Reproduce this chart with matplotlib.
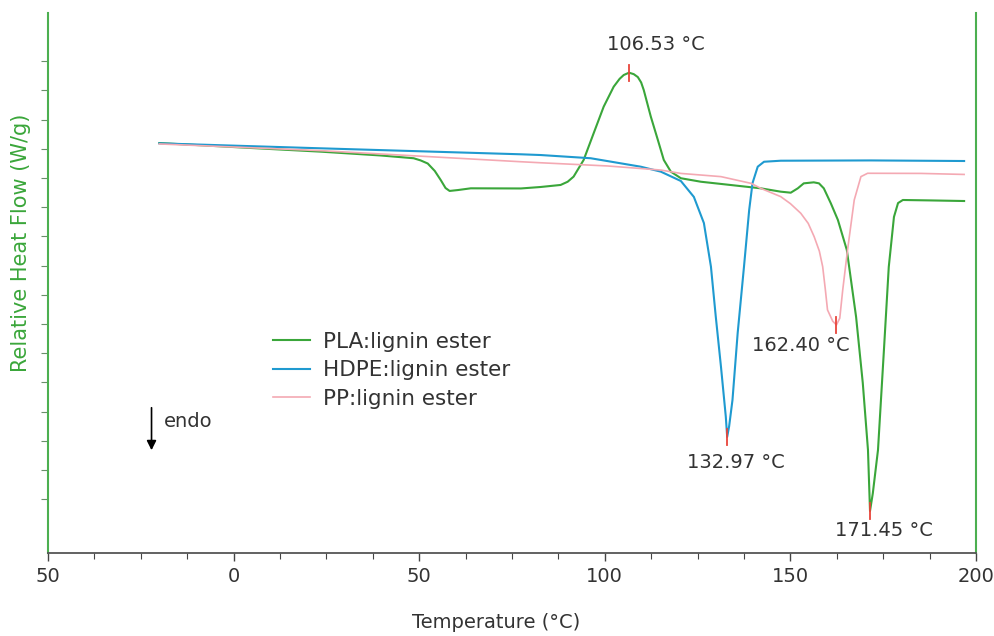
import numpy as np
import matplotlib.pyplot as plt

# DSC curves (temperature in degC, relative heat flow in W/g)
pla_t = [-20.0, -8.9, 1.9, 23.5, 39.6, 48.5, 50.4, 52.3, 54.2, 55.8, 57.1, 58.2,
         60.4, 63.9, 77.4, 82.7, 88.1, 90.0, 91.6, 94.3, 97.0, 99.7, 102.4, 104.0,
         105.1, 106.53, 107.8, 108.9, 109.8, 110.5, 112.4, 114.3, 115.9, 117.8,
         120.5, 125.9, 131.3, 142.0, 147.4, 150.1, 152.0, 153.6, 156.3, 157.7,
         159.0, 160.9, 162.8, 165.2, 167.7, 169.5, 170.9, 171.45, 172.2, 173.6,
         175.2, 176.5, 177.9, 179.0, 180.3, 187.9, 196.8]
pla_hf = [0.440, 0.425, 0.410, 0.381, 0.355, 0.336, 0.321, 0.300, 0.249, 0.187,
          0.132, 0.112, 0.118, 0.130, 0.129, 0.139, 0.153, 0.175, 0.210, 0.324,
          0.507, 0.689, 0.826, 0.880, 0.906, 0.922, 0.912, 0.892, 0.855, 0.803,
          0.621, 0.461, 0.324, 0.244, 0.199, 0.175, 0.160, 0.130, 0.107, 0.100,
          0.130, 0.164, 0.171, 0.164, 0.130, 0.027, -0.087, -0.292, -0.751,
          -1.203, -1.662, -2.080, -1.960, -1.662, -0.977, -0.409, -0.066, 0.029,
          0.050, 0.047, 0.043]

hdpe_t = [-20.0, 23.5, 77.4, 82.7, 96.2, 109.7, 115.1, 120.5, 124.0, 126.7,
          128.6, 129.9, 131.3, 132.6, 132.97, 133.5, 134.4, 135.8, 137.5, 138.9,
          139.8, 141.2, 142.9, 147.4, 171.7, 196.8]
hdpe_hf = [0.438, 0.404, 0.363, 0.358, 0.336, 0.278, 0.244, 0.180, 0.071, -0.108,
           -0.407, -0.749, -1.092, -1.434, -1.573, -1.500, -1.320, -0.861, -0.407,
           -0.018, 0.166, 0.278, 0.312, 0.319, 0.321, 0.317]

pp_t = [-20.0, 23.5, 77.4, 82.7, 100.8, 115.1, 120.5, 131.3, 139.4, 142.0,
        147.4, 150.0, 152.8, 154.8, 156.4, 157.8, 158.7, 159.4, 160.0, 161.4,
        162.40, 163.3, 164.1, 165.4, 167.2, 169.0, 170.8, 185.2, 196.8]
pp_hf = [0.434, 0.388, 0.312, 0.305, 0.283, 0.255, 0.232, 0.210, 0.164, 0.130,
         0.073, 0.025, -0.041, -0.110, -0.201, -0.300, -0.407, -0.560, -0.703,
         -0.780, -0.806, -0.760, -0.566, -0.292, 0.050, 0.210, 0.233, 0.232, 0.225]

series_names = ['PLA:lignin ester', 'HDPE:lignin ester', 'PP:lignin ester']
series_colors = ['#3aa63a', '#1f9ad0', '#f4a9b3']

peak_temps = [106.53, 132.97, 162.40, 171.45]
peak_series = [0, 1, 2, 0]
# label centre (T, heat flow) for each peak
peak_label_pos = [(113.7, 1.118), (135.3, -1.751), (152.8, -0.950), (175.2, -2.211)]

temp_ticks = [-50, 0, 50, 100, 150, 200]
temp_tick_labels = ['50', '0', '50', '100', '150', '200']

green = '#4caf50'
txt = '#333333'

fig = plt.figure(figsize=(9.95, 6.36), dpi=100)
ax = fig.add_axes([0.0482, 0.1305, 0.9327, 0.8491])

curves = [(pla_t, pla_hf), (hdpe_t, hdpe_hf), (pp_t, pp_hf)]
widths = [1.5, 1.5, 1.2]
for (t, hf), name, c, lw in zip(curves, series_names, series_colors, widths):
    ax.plot(t, hf, color=c, lw=lw, label=name, solid_joinstyle='round')

# peak markers + labels
for pt, si, (lx, ly) in zip(peak_temps, peak_series, peak_label_pos):
    t, hf = curves[si]
    py = np.interp(pt, t, hf)
    ax.plot([pt, pt], [py - 0.055, py + 0.055], color='#e8443a', lw=1.3)
    ax.text(lx, ly, '%.2f °C' % pt, ha='center', va='center', fontsize=14, color=txt)

# endo arrow
ax.annotate('', xy=(-22.1, -1.683), xytext=(-22.1, -1.354),
            arrowprops=dict(arrowstyle='-|>', color='black', lw=1.2, mutation_scale=14))
ax.text(-18.9, -1.464, 'endo', ha='left', va='center', fontsize=14, color=txt)

ax.set_xlim(-50, 200)
ax.set_ylim(-2.368, 1.331)
ax.set_xticks(temp_ticks)
ax.set_xticklabels(temp_tick_labels)
ax.set_xticks(np.arange(-50, 200.1, 12.5), minor=True)
ax.set_yticks(np.arange(-2.0, 1.01, 0.2))
ax.set_yticklabels([])
ax.tick_params(axis='x', which='major', length=6, width=1, colors='#444444',
               labelsize=14, labelcolor=txt, pad=4)
ax.tick_params(axis='x', which='minor', length=4, width=0.8, colors='#444444')
ax.tick_params(axis='y', length=5, width=0.8, colors='#6a8f6a')

ax.spines['top'].set_visible(False)
ax.spines['left'].set_color(green)
ax.spines['left'].set_linewidth(1.5)
ax.spines['right'].set_color(green)
ax.spines['right'].set_linewidth(1.5)
ax.spines['bottom'].set_color('#555555')
ax.spines['bottom'].set_linewidth(1.3)

ax.set_xlabel('Temperature (°C)', fontsize=14, color=txt)
ax.xaxis.set_label_coords(0.483, -0.112)
ax.set_ylabel('Relative Heat Flow (W/g)', fontsize=15, color='#3aa63a')
ax.yaxis.set_label_coords(-0.018, 0.575)

ax.legend(loc='upper left', bbox_to_anchor=(0.2425, 0.41), frameon=False,
          fontsize=15.5, handlelength=1.7, handletextpad=0.6, labelspacing=0.4,
          borderpad=0, borderaxespad=0, labelcolor=txt)

fig.savefig('out.png', dpi=100)
